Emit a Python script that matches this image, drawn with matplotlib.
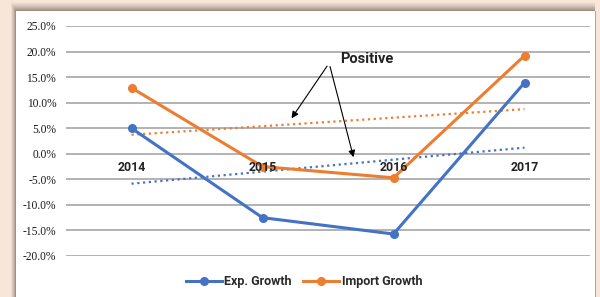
import numpy as np
import matplotlib
matplotlib.use("Agg")
import matplotlib.pyplot as plt
from matplotlib.patches import Rectangle

# data
years = ["2014", "2015", "2016", "2017"]
exp_growth = [5.0, -12.5, -15.7, 13.9]
import_growth = [12.9, -2.5, -4.7, 19.2]
y_ticks = [-20, -15, -10, -5, 0, 5, 10, 15, 20, 25]

blue = "#4472C4"
orange = "#ED7D31"

fig = plt.figure(figsize=(6, 2.97), dpi=100)
fig.patch.set_facecolor("#f8e6d9")

# white panel with a soft shadow on the left/top
for i, a in enumerate([0.04, 0.06, 0.08, 0.1, 0.13, 0.16, 0.2, 0.25, 0.3]):
    off = (9 - i) * 1.0
    fig.patches.append(Rectangle(((16 - off * 0.6) / 600, 0), (579 + off * 0.6) / 600,
                                 (286 + off) / 297, transform=fig.transFigure,
                                 facecolor="#8a7a70", alpha=a, edgecolor="none", zorder=-3))
fig.patches.append(Rectangle((16 / 600, 0), 579 / 600, 286 / 297, transform=fig.transFigure,
                             facecolor="white", edgecolor="none", zorder=-2))
fig.patches.append(Rectangle((595 / 600, 0), 1.2 / 600, 286 / 297, transform=fig.transFigure,
                             facecolor="#a8a8a8", edgecolor="none", zorder=-2))

ax = fig.add_axes([66 / 600, 41 / 297, 524 / 600, 230 / 297])
ax.set_zorder(2)
ax.set_facecolor("none")
x = np.arange(len(years))

ax.set_xlim(-0.5, 3.5)
ax.set_ylim(-20, 25)
ax.set_yticks(y_ticks)
ax.set_yticklabels([f"{v:.1f}%" for v in y_ticks], family="Liberation Serif",
                   fontsize=8.3, color="#1a1a1a")
ax.set_xticks([])
ax.tick_params(axis="y", length=0, pad=7)
for s in ax.spines.values():
    s.set_visible(False)
for v in y_ticks:
    ax.axhline(v, color="#a6a6a6", lw=1.2, zorder=1)

# category labels sit just under the zero line
for xi, lab in zip(x, years):
    ax.text(xi, -1.4, lab, ha="center", va="top", fontsize=8.8, fontweight="bold",
            family="Roboto", color="#222222", zorder=5)

# trend lines
for vals, c in [(exp_growth, blue), (import_growth, orange)]:
    k, b = np.polyfit(x, vals, 1)
    ax.plot(x, k * x + b, color=c, lw=1.6, ls=(0, (1, 1.6)), zorder=2)

ax.plot(x, exp_growth, color=blue, lw=2.2, marker="o", ms=5.5, label="Exp. Growth",
        zorder=4, clip_on=False)
ax.plot(x, import_growth, color=orange, lw=2.2, marker="o", ms=5.5, label="Import Growth",
        zorder=3, clip_on=False)

# "Positive" callout
ax.text(1.59, 18.5, "Positive", fontsize=10.5, fontweight="bold", family="Roboto",
        color="#222222", va="center", ha="left")
ax.annotate("", xy=(1.21, 6.5), xytext=(1.505, 17.6),
            arrowprops=dict(arrowstyle="-|>", color="black", lw=0.8, mutation_scale=10))
ax.annotate("", xy=(1.70, -1.2), xytext=(1.51, 17.6),
            arrowprops=dict(arrowstyle="-|>", color="black", lw=0.8, mutation_scale=10))

leg = fig.legend(loc="center", bbox_to_anchor=(304 / 600, 15 / 297), ncol=2, frameon=False,
                 prop={"family": "Roboto", "size": 9, "weight": "bold"}, handlelength=2.9,
                 columnspacing=0.9, handletextpad=0.2)
for t in leg.get_texts():
    t.set_color("#2a2a2a")

fig.savefig("out.png", dpi=100, facecolor=fig.get_facecolor())
